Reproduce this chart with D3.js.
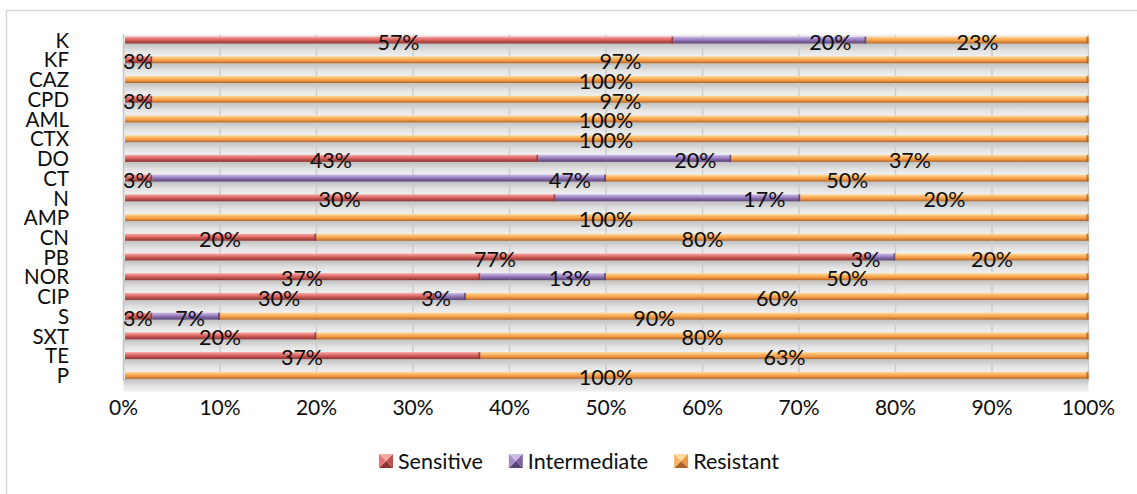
<!DOCTYPE html>
<html>
<head>
<meta charset="utf-8">
<script src="https://cdn.jsdelivr.net/npm/d3@7/dist/d3.min.js"></script>
<style>
  html, body { margin: 0; padding: 0; background: #ffffff; }
  svg { display: block; }
  text { font-family: Lato, "Open Sans", sans-serif; fill: #0d0d0d; }
</style>
</head>
<body>
<svg id="chart" width="1137" height="494"></svg>
<script>
// ---- data ----
const categories = ["K","KF","CAZ","CPD","AML","CTX","DO","CT","N","AMP","CN","PB","NOR","CIP","S","SXT","TE","P"];
const sensitive    = [57, 3,   0,  3,   0,   0, 43,  3, 30,   0, 20, 77, 37, 30,  3, 20, 37,   0];
const intermediate = [20, 0,   0,  0,   0,   0, 20, 47, 17,   0,  0,  3, 13,  3,  7,  0,  0,   0];
const resistant    = [23, 97, 100, 97, 100, 100, 37, 50, 20, 100, 80, 20, 50, 60, 90, 80, 63, 100];
const seriesNames  = ["Sensitive", "Intermediate", "Resistant"];
const xTickValues  = [0, 0.1, 0.2, 0.3, 0.4, 0.5, 0.6, 0.7, 0.8, 0.9, 1];
const xTickLabels  = ["0%","10%","20%","30%","40%","50%","60%","70%","80%","90%","100%"];

// ---- styles ----
const palettes = {
  Sensitive:    { light: "#f6aaa7", mid: "#e57471", base: "#c0504d", dark: "#8a3533" },
  Intermediate: { light: "#cdbbe8", mid: "#a68cca", base: "#8064a2", dark: "#574373" },
  Resistant:    { light: "#fddba0", mid: "#f9b462", base: "#f29540", dark: "#a9642a" }
};

const svg = d3.select("#chart");

// chart frame
svg.append("rect").attr("x", 6.5).attr("y", 10.5).attr("width", 1150).attr("height", 500)
  .attr("fill", "#fff").attr("stroke", "#d9d9d9").attr("stroke-width", 1.5);

const table = categories.map((c, i) => ({
  cat: c, Sensitive: sensitive[i], Intermediate: intermediate[i], Resistant: resistant[i]
}));
const stack = d3.stack().keys(seriesNames).offset(d3.stackOffsetExpand);
const stacked = stack(table);

const x = d3.scaleLinear().domain([0, 1]).range([123.5, 1088.5]);
const y = d3.scaleBand().domain(categories).range([30.2, 385.2]).paddingInner(0);
const step = y.step();
const barH = 7;
const cy = c => y(c) + y.bandwidth() / 2;

const defs = svg.append("defs");
seriesNames.forEach(k => {
  const p = palettes[k];
  const g = defs.append("linearGradient").attr("id", "g-" + k)
    .attr("x1", 0).attr("y1", 0).attr("x2", 0).attr("y2", 1);
  g.append("stop").attr("offset", "0%").attr("stop-color", p.light);
  g.append("stop").attr("offset", "35%").attr("stop-color", p.mid);
  g.append("stop").attr("offset", "65%").attr("stop-color", p.base);
  g.append("stop").attr("offset", "100%").attr("stop-color", p.dark);
});
const sg = defs.append("linearGradient").attr("id", "shadow")
  .attr("x1", 0).attr("y1", 0).attr("x2", 0).attr("y2", 1);
sg.append("stop").attr("offset", "0%").attr("stop-color", "#c0c0c0");
sg.append("stop").attr("offset", "55%").attr("stop-color", "#e2e2e2");
sg.append("stop").attr("offset", "100%").attr("stop-color", "#f0f0f0");

// plot background (3D wall stripes)
const plot = svg.append("g");
plot.append("rect").attr("x", x(0)).attr("y", cy(categories[0]) - barH / 2 - 2)
  .attr("width", x(1) - x(0)).attr("height", cy(categories[categories.length - 1]) - cy(categories[0]) + barH + 4)
  .attr("fill", "#eeeeee");
plot.selectAll("rect.band").data(categories).join("rect").attr("class", "band")
  .attr("x", x(0)).attr("width", x(1) - x(0))
  .attr("y", c => cy(c) + barH / 2)
  .attr("height", step - barH)
  .attr("fill", "url(#shadow)");

// gridlines
plot.selectAll("line.grid").data(xTickValues).join("line").attr("class", "grid")
  .attr("x1", d => x(d)).attr("x2", d => x(d))
  .attr("y1", cy(categories[0]) - barH / 2 - 2)
  .attr("y2", cy(categories[categories.length - 1]) + barH / 2 + 2)
  .attr("stroke", d => d === 0 ? "#c4c4c4" : "#cdcdcd").attr("stroke-width", 1.5);

// bars
const bars = svg.append("g");
stacked.forEach(s => {
  const k = s.key;
  const segs = s.filter(d => d[1] - d[0] > 0);
  bars.selectAll(null).data(segs).join("rect")
    .attr("x", d => x(d[0]) + (d[0] === 0 ? 1.5 : 0))
    .attr("y", d => cy(d.data.cat) - barH / 2)
    .attr("width", d => x(d[1]) - x(d[0]) - (d[0] === 0 ? 1.5 : 0))
    .attr("height", barH)
    .attr("fill", "url(#g-" + k + ")");
  bars.selectAll(null).data(segs).join("rect")
    .attr("x", d => x(d[1]) - 2)
    .attr("y", d => cy(d.data.cat) - barH / 2)
    .attr("width", 2)
    .attr("height", barH)
    .attr("fill", palettes[k].dark).attr("opacity", 0.8);
});

// data labels
const labels = svg.append("g").attr("font-size", 21.5);
stacked.forEach(s => {
  const k = s.key;
  const segs = s.filter(d => d.data[k] > 0);
  labels.selectAll(null).data(segs).join("text")
    .attr("x", d => k === "Intermediate" ? x(d[1]) - 15 : (x(d[0]) + x(d[1])) / 2)
    .attr("y", d => cy(d.data.cat) + 2)
    .attr("dy", "0.35em")
    .attr("text-anchor", k === "Intermediate" ? "end" : "middle")
    .text(d => d.data[k] + "%");
});

// y axis labels
svg.append("g").attr("font-size", 20.5)
  .selectAll("text").data(categories).join("text")
  .attr("x", 69).attr("y", c => cy(c) + 0.5).attr("dy", "0.35em")
  .attr("text-anchor", "end").text(c => c);

// x axis labels
svg.append("g").attr("font-size", 21)
  .selectAll("text").data(xTickValues).join("text")
  .attr("x", d => x(d)).attr("y", 408).attr("dy", "0.35em")
  .attr("text-anchor", "middle").text((d, i) => xTickLabels[i]);

// legend
const legend = svg.append("g").attr("font-size", 21.5);
const items = legend.selectAll("g").data(seriesNames).join("g");
items.append("text").attr("y", 461).attr("dy", "0.35em").text(d => d);
const widths = [];
items.each(function () { widths.push(d3.select(this).select("text").node().getComputedTextLength()); });
const box = 14, gapMarker = 5, gapItem = 26;
const total = d3.sum(widths) + seriesNames.length * (box + gapMarker) + gapItem * (seriesNames.length - 1);
let cx0 = 579 - total / 2;
items.each(function (d, i) {
  const g = d3.select(this);
  const p = palettes[d];
  const bx = cx0, by = 454;
  const c = [bx + box / 2, by + box / 2];
  const tri = [
    [[bx, by], [bx + box, by], c, p.light],
    [[bx + box, by], [bx + box, by + box], c, p.base],
    [[bx, by + box], [bx + box, by + box], c, p.dark],
    [[bx, by], [bx, by + box], c, p.mid]
  ];
  tri.forEach(t => g.append("path")
    .attr("d", "M" + t[0] + "L" + t[1] + "L" + t[2] + "Z").attr("fill", t[3]));
  g.select("text").attr("x", bx + box + gapMarker);
  cx0 += box + gapMarker + widths[i] + gapItem;
});
</script>
</body>
</html>
